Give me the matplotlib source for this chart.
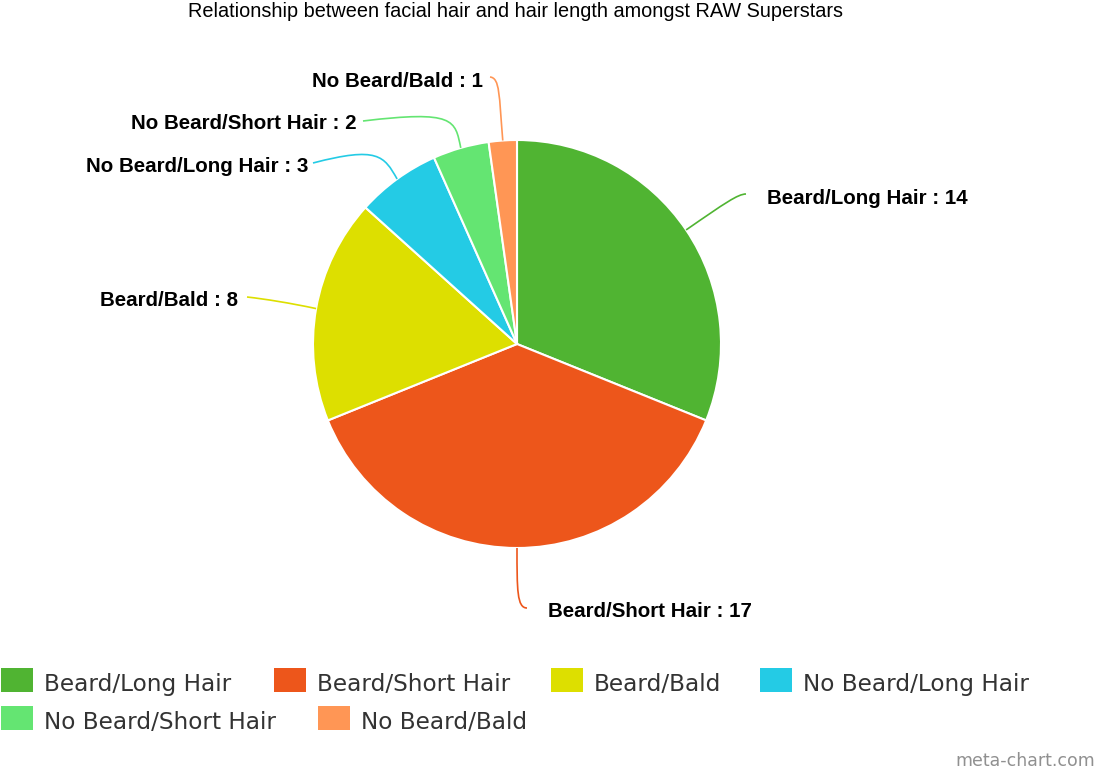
import matplotlib.pyplot as plt
from matplotlib.path import Path
from matplotlib.patches import PathPatch, Rectangle
import numpy as np

# data
categories = ["Beard/Long Hair", "Beard/Short Hair", "Beard/Bald",
              "No Beard/Long Hair", "No Beard/Short Hair", "No Beard/Bald"]
counts = [14, 17, 8, 3, 2, 1]
colors = ["#50B432", "#ED561B", "#DDDF00", "#24CBE5", "#64E572", "#FF9655"]
title = "Relationship between facial hair and hair length amongst RAW Superstars"

W, H = 1096, 772
fig = plt.figure(figsize=(W / 100, H / 100), dpi=100)
ax = fig.add_axes([0, 0, 1, 1])

def Y(py):
    # pixel row (from top) -> data y
    return H - py

cx, cy, r = 517, 344, 204
wedges, _ = ax.pie(counts, colors=colors, startangle=90, counterclock=False,
                   center=(cx, Y(cy)), radius=r, frame=True,
                   wedgeprops=dict(edgecolor="white", linewidth=1.5))
ax.set_xlim(0, W)
ax.set_ylim(0, H)
ax.set_aspect("equal")
ax.axis("off")

# label layout: (control1, control2, end of connector, text x, text baseline, align)
layout = [
    ((725, 203), (738, 194), (746, 194), 767, 204, "left"),
    ((517, 590), (517, 608), (527, 608), 548, 617, "left"),
    ((290, 303), (265, 299), (247, 297), 238, 306, "right"),
    ((384, 156), (378, 146), (313, 163), 308, 172, "right"),
    ((455, 120), (455, 110), (363, 121), 357, 129, "right"),
    ((499, 95), (500, 78), (490, 77), 483, 87, "right"),
]

for w, lab, val, col, (c1, c2, end, tx, ty, ha) in zip(wedges, categories, counts, colors, layout):
    mid = np.deg2rad((w.theta1 + w.theta2) / 2)
    sx, sy = cx + r * np.cos(mid), Y(cy) + r * np.sin(mid)
    verts = [(sx, sy), (c1[0], Y(c1[1])), (c2[0], Y(c2[1])), (end[0], Y(end[1]))]
    path = Path(verts, [Path.MOVETO, Path.CURVE4, Path.CURVE4, Path.CURVE4])
    ax.add_patch(PathPatch(path, facecolor="none", edgecolor=col, lw=1.2))
    ax.text(tx, Y(ty), f"{lab} : {val}", ha=ha, va="baseline", fontsize=14.8,
            fontweight="bold", family="Liberation Sans", color="black")

ax.text(516, Y(17), title, ha="center", va="baseline", fontsize=14.3,
        family="Liberation Sans", color="black")

# legend, flow layout like the original
leg_pos = [(1, 668), (274, 668), (551, 668), (760, 668), (1, 706), (318, 706)]
for (lx, ly), lab, col in zip(leg_pos, categories, colors):
    ax.add_patch(Rectangle((lx, Y(ly + 24)), 32, 24, facecolor=col, edgecolor="none"))
    ax.text(lx + 43, Y(ly + 23), lab, ha="left", va="baseline", fontsize=16.7,
            family="DejaVu Sans", color="#333333")

ax.text(1095, Y(766), "meta-chart.com", ha="right", va="baseline", fontsize=12.5,
        family="DejaVu Sans", color="#909090")

fig.savefig("out.png", dpi=100)
